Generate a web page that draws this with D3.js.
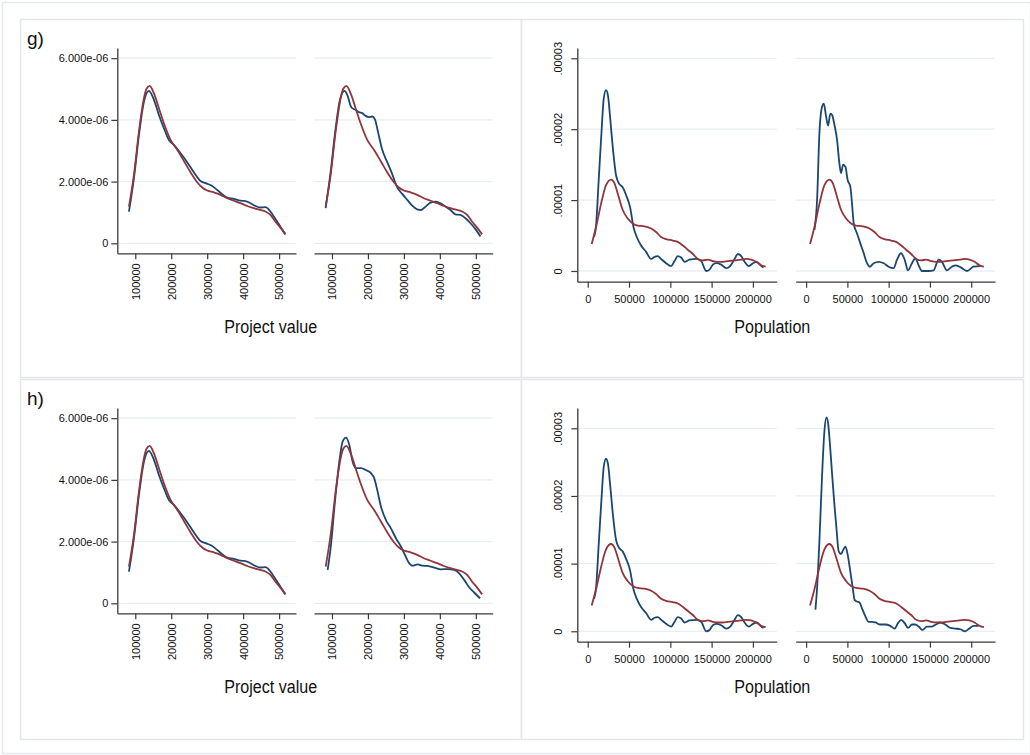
<!DOCTYPE html>
<html><head><meta charset="utf-8">
<script src="https://cdn.jsdelivr.net/npm/d3@7"></script>
<style>
body{margin:0;background:#fff}
svg{display:block}
text{font-family:"Liberation Sans",Arial,Helvetica,sans-serif;fill:#111}
</style>
</head><body>
<svg id="chart" width="1030" height="755"></svg>
<script>
// ---------------- DATA ----------------
// Project value densities: [value in thousands, density in 1e-6]
const PV_X_UNIT = 1000, PV_Y_UNIT = 1e-6;
const pvRed = [[82.4,1.19],[96.3,2.22],[110.2,3.62],[124.1,4.70],[131,5.0],[139.8,5.10],[151.9,4.86],[165.7,4.38],[179.6,3.89],[198.1,3.35],[216.7,3.03],[235.2,2.67],[253.7,2.30],[272.2,1.98],[286.1,1.81],[300.0,1.71],[318.5,1.65],[337.0,1.57],[355.6,1.46],[374.1,1.38],[392.6,1.30],[411.1,1.21],[429.6,1.14],[448.1,1.08],[462.0,1.03],[475.9,0.92],[489.8,0.70],[503.7,0.51],[517.6,0.29]];
const pvBlueBase = [[82.4,1.03],[96.3,2.11],[110.2,3.51],[124.1,4.59],[138.0,4.94],[151.9,4.65],[165.7,4.16],[179.6,3.73],[193.5,3.35],[207.4,3.19],[225.9,2.92],[244.4,2.63],[262.9,2.30],[281.5,2.02],[295.4,1.95],[313.9,1.86],[327.8,1.73],[341.7,1.59],[355.6,1.48],[374.1,1.44],[392.6,1.38],[406.5,1.37],[420.4,1.30],[434.3,1.21],[448.1,1.16],[462.0,1.17],[475.9,1.03],[489.8,0.79],[503.7,0.54],[517.6,0.29]];
const pvBlueG = [[82.4,1.14],[96.3,2.32],[110.2,3.73],[122.2,4.65],[135.2,4.94],[142.6,4.81],[153.7,4.41],[165.7,4.32],[175.0,4.25],[184.3,4.22],[193.5,4.13],[202.8,4.09],[212.0,4.11],[219.4,4.02],[227.8,3.62],[239.8,3.03],[253.7,2.63],[267.6,2.24],[281.5,1.81],[295.4,1.60],[309.3,1.41],[323.1,1.22],[337.0,1.10],[348.1,1.08],[360.2,1.19],[374.1,1.32],[388.0,1.35],[401.9,1.30],[415.7,1.19],[429.6,1.08],[443.5,0.94],[457.4,0.92],[471.3,0.81],[485.2,0.65],[499.1,0.46],[513.0,0.22]];
const pvBlueH = [[88.0,1.08],[97.2,1.89],[108.3,3.30],[120.4,4.59],[129.6,5.24],[138.9,5.37],[148.1,5.14],[157.4,4.59],[166.7,4.38],[180.6,4.38],[194.4,4.32],[208.3,4.22],[217.6,4.05],[226.9,3.62],[236.1,3.14],[250.0,2.70],[263.9,2.43],[277.8,2.11],[291.7,1.84],[302.8,1.57],[312.0,1.35],[324.1,1.22],[338.0,1.26],[351.9,1.22],[365.7,1.21],[384.3,1.16],[402.8,1.10],[421.3,1.11],[439.8,1.08],[453.7,0.97],[467.6,0.76],[481.5,0.52],[495.4,0.35],[512.0,0.16]];

// Population densities: [population in thousands, density in 1e-5]
const POP_X_UNIT = 1000, POP_Y_UNIT = 1e-5;
const popRed = [[4.8,0.38],[10.1,0.62],[16.2,0.95],[22.2,1.21],[28.3,1.29],[32.3,1.24],[36.4,1.09],[42.4,0.86],[48.5,0.74],[54.5,0.67],[60.6,0.64],[68.7,0.63],[76.8,0.60],[82.8,0.55],[88.9,0.48],[94.9,0.45],[103.0,0.43],[109.1,0.41],[115.2,0.36],[121.2,0.30],[127.3,0.24],[133.3,0.17],[139.4,0.15],[145.5,0.16],[151.5,0.14],[157.6,0.13],[163.6,0.13],[169.7,0.14],[177.8,0.15],[185.9,0.16],[192.0,0.17],[197.9,0.16],[204.0,0.13],[210.1,0.08],[215.4,0.06]];
const popBlueBase = [[7.7,0.48],[10.1,0.64],[13.3,1.28],[16.6,1.94],[19.4,2.43],[22.2,2.55],[24.6,2.47],[27.1,2.17],[30.3,1.75],[34.3,1.35],[37.6,1.24],[42.4,1.18],[46.5,1.07],[51.3,0.90],[55.4,0.62],[59.4,0.48],[64.6,0.36],[70.7,0.27],[76.8,0.17],[80.8,0.20],[84.8,0.21],[88.9,0.17],[94.9,0.11],[101.0,0.07],[105.1,0.14],[109.1,0.21],[113.1,0.19],[117.2,0.13],[123.2,0.16],[131.3,0.17],[137.4,0.14],[143.4,0.0],[147.5,0.02],[151.5,0.09],[155.6,0.11],[161.6,0.09],[167.7,0.04],[172.5,0.07],[177.8,0.17],[181.8,0.24],[185.9,0.21],[189.9,0.13],[195.2,0.07],[200.0,0.11],[204.8,0.13],[210.1,0.07],[212.9,0.05]];
const popBlueG = [[10.1,0.58],[13.3,1.0],[16.1,1.94],[19.4,2.32],[21.4,2.36],[24.2,2.18],[26.6,2.05],[29.4,2.22],[31.5,2.20],[34.7,2.04],[37.5,1.85],[40.3,1.52],[42.3,1.38],[44.8,1.50],[47.6,1.47],[50.4,1.28],[53.6,1.19],[55.6,0.95],[57.7,0.67],[61.7,0.53],[65.7,0.39],[69.8,0.25],[73.8,0.11],[77.0,0.06],[81.9,0.11],[87.9,0.13],[94.0,0.11],[100.0,0.06],[106.0,0.04],[110.1,0.16],[114.9,0.25],[119.4,0.16],[123.4,0.01],[128.2,0.11],[132.3,0.18],[136.3,0.08],[140.3,0.0],[148.4,0.0],[154.4,0.01],[160.5,0.16],[164.5,0.13],[170.6,0.01],[176.6,0.06],[181.5,0.08],[188.7,0.04],[194.8,0.0],[202.8,0.06],[210.9,0.07]];
const popBlueH = [[11.3,0.32],[13.3,0.64],[16.1,1.33],[19.4,2.32],[22.2,2.96],[24.6,3.16],[26.6,3.08],[28.6,2.81],[31.5,2.32],[34.3,1.87],[36.7,1.53],[39.5,1.18],[42.3,1.14],[44.8,1.20],[47.6,1.25],[50.4,1.13],[53.6,0.88],[56.5,0.64],[58.9,0.46],[61.7,0.44],[64.5,0.43],[67.7,0.34],[71.8,0.22],[75.8,0.14],[79.8,0.14],[83.9,0.13],[89.9,0.10],[96.0,0.10],[102.0,0.08],[107.3,0.04],[111.3,0.12],[115.3,0.17],[119.4,0.12],[123.4,0.05],[128.2,0.10],[132.3,0.10],[136.3,0.07],[141.1,0.02],[146.4,0.07],[152.4,0.07],[157.3,0.10],[162.5,0.13],[168.5,0.10],[174.6,0.05],[180.6,0.04],[186.7,0.03],[192.7,0.0],[197.6,0.04],[202.8,0.08],[208.9,0.08]];

// Ticks and labels
const pvXTicks = [100000, 200000, 300000, 400000, 500000];
const pvYTicks = [0, 2e-6, 4e-6, 6e-6];
const pvYLabels = ["0", "2.000e-06", "4.000e-06", "6.000e-06"];
const popXTicks = [0, 50000, 100000, 150000, 200000];
const popYTicks = [0, 1e-5, 2e-5, 3e-5];
const popYLabels = ["0", ".00001", ".00002", ".00003"];
const panelLetters = ["g)", "h)"];
const xTitles = ["Project value", "Population"];

// ---------------- DRAWING ----------------
const svg = d3.select("#chart");
const NAVY = "#1a476f", MAROON = "#90353b";
const GRID = "#e8eef2", AXIS = "#3a3a3a", BORDER = "#e3e7eb";
const TICK_FS = 11;

// outer frame
svg.append("rect").attr("x", 2.5).attr("y", 2.5).attr("width", 1028).attr("height", 751)
  .attr("fill", "#fff").attr("stroke", "#e6e9ed").attr("stroke-width", 1.5);

const rowOffsets = [0, 360];
const rowBoxes = [[19.5, 377.5], [379.5, 739.5]];

// panel boxes
rowBoxes.forEach(([t, b]) => {
  [[20.5, 521.5], [521.5, 1023.5]].forEach(([l, r]) => {
    svg.append("rect").attr("x", l).attr("y", t).attr("width", r - l).attr("height", b - t)
      .attr("fill", "#fff").attr("stroke", BORDER).attr("stroke-width", 1.5);
  });
});

const toPts = (arr, ux, uy) => arr.map(d => [d[0] * ux, d[1] * uy]);

function subplot(cfg) {
  const x = d3.scaleLinear().domain(cfg.xDomain).range([cfg.x0, cfg.x1]);
  const y = d3.scaleLinear().domain(cfg.yDomain).range([cfg.yBottom, cfg.yTop]);
  const g = svg.append("g");

  // gridlines
  g.selectAll("line.grid").data(cfg.yTicks).join("line").attr("class", "grid")
    .attr("x1", cfg.x0).attr("x2", cfg.x1)
    .attr("y1", d => y(d)).attr("y2", d => y(d))
    .attr("stroke", GRID).attr("stroke-width", 1.3);

  // y axis (only on the first subplot)
  if (cfg.showY) {
    const ya = g.append("g").attr("transform", `translate(${cfg.x0},0)`)
      .call(d3.axisLeft(y).tickValues(cfg.yTicks).tickSize(6).tickPadding(3).tickSizeOuter(0)
        .tickFormat((d, i) => cfg.yLabels[i]));
    ya.select(".domain").attr("stroke", AXIS).attr("stroke-width", 1.3);
    ya.selectAll(".tick line").attr("stroke", AXIS).attr("stroke-width", 1.2);
    ya.selectAll("text").attr("font-size", TICK_FS).attr("fill", "#111");
    if (cfg.rotYLabels) {
      ya.selectAll("text").attr("transform", "rotate(-90)").attr("text-anchor", "middle")
        .attr("x", 0).attr("y", -19).attr("dy", "0.35em");
    }
  }

  // x axis
  const xa = g.append("g").attr("transform", `translate(0,${cfg.yBottom})`)
    .call(d3.axisBottom(x).tickValues(cfg.xTicks).tickSize(6).tickPadding(cfg.xPad).tickSizeOuter(0)
      .tickFormat(d3.format("d")));
  xa.select(".domain").attr("stroke", AXIS).attr("stroke-width", 1.3);
  xa.selectAll(".tick line").attr("stroke", AXIS).attr("stroke-width", 1.2);
  xa.selectAll("text").attr("font-size", TICK_FS).attr("fill", "#111");
  if (cfg.rotXLabels) {
    xa.selectAll("text").attr("transform", "rotate(-90)").attr("text-anchor", "end")
      .attr("x", -10).attr("y", 0).attr("dy", "0.35em");
  }

  // density curves
  const line = d3.line().x(d => x(d[0])).y(d => y(d[1])).curve(d3.curveMonotoneX);
  cfg.series.forEach(s => {
    g.append("path").datum(s.data).attr("d", line)
      .attr("fill", "none").attr("stroke", s.color).attr("stroke-width", 1.8)
      .attr("stroke-linejoin", "round");
  });
}

const pvSecond = [pvBlueG, pvBlueH];
const popSecond = [popBlueG, popBlueH];
const popYDomains = [[-0.151e-5, 3.145e-5], [-0.154e-5, 3.30e-5]];

rowOffsets.forEach((dy, r) => {
  // panel letter
  svg.append("text").attr("x", 27).attr("y", 44.5 + dy).attr("font-size", 19).text(panelLetters[r]);

  // Project value pair
  [[117.3, 296], [314, 492.7]].forEach(([x0, x1], k) => {
    const blue = k === 0 ? pvBlueBase : pvSecond[r];
    subplot({
      x0, x1, yTop: 48 + dy, yBottom: 253.3 + dy,
      xDomain: [50000, 547000], yDomain: [-0.324e-6, 6.33e-6],
      xTicks: pvXTicks, yTicks: pvYTicks, yLabels: pvYLabels,
      showY: k === 0, rotYLabels: false, rotXLabels: true, xPad: 4,
      series: [
        { data: toPts(blue, PV_X_UNIT, PV_Y_UNIT), color: NAVY },
        { data: toPts(pvRed, PV_X_UNIT, PV_Y_UNIT), color: MAROON }
      ]
    });
  });
  svg.append("text").attr("x", 270.7).attr("y", 332.5 + dy).attr("text-anchor", "middle")
    .attr("font-size", 18).attr("textLength", 93).attr("lengthAdjust", "spacingAndGlyphs")
    .text(xTitles[0]);

  // Population pair
  [[577.3, 776.7], [795.7, 995]].forEach(([x0, x1], k) => {
    const blue = k === 0 ? popBlueBase : popSecond[r];
    subplot({
      x0, x1, yTop: 48 + dy, yBottom: 281.7 + dy,
      xDomain: [-12600, 228800], yDomain: popYDomains[r],
      xTicks: popXTicks, yTicks: popYTicks, yLabels: popYLabels,
      showY: k === 0, rotYLabels: true, rotXLabels: false, xPad: 8,
      series: [
        { data: toPts(blue, POP_X_UNIT, POP_Y_UNIT), color: NAVY },
        { data: toPts(popRed, POP_X_UNIT, POP_Y_UNIT), color: MAROON }
      ]
    });
  });
  svg.append("text").attr("x", 772.3).attr("y", 332.5 + dy).attr("text-anchor", "middle")
    .attr("font-size", 18).attr("textLength", 76).attr("lengthAdjust", "spacingAndGlyphs")
    .text(xTitles[1]);
});
</script>
</body></html>
